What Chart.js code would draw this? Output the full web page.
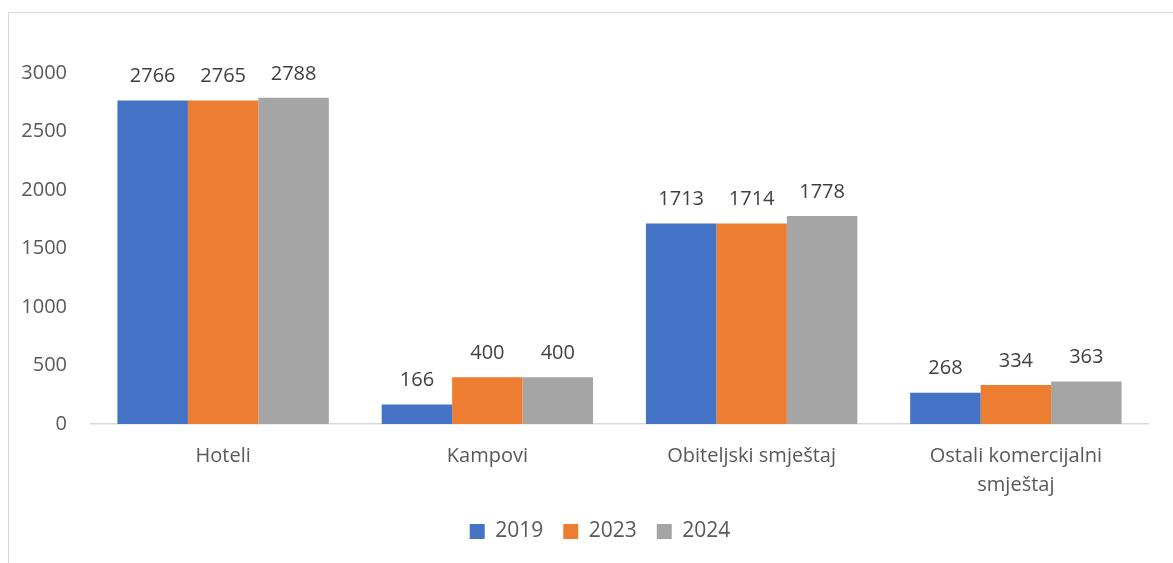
<!DOCTYPE html>
<html>
<head>
<meta charset="utf-8">
<script src="https://cdn.jsdelivr.net/npm/chart.js@4.4.1/dist/chart.umd.min.js"></script>
<style>
  html, body { margin: 0; padding: 0; background: #fff; overflow: hidden; }
  #frame { position: absolute; left: 8px; top: 12px; width: 1200px; height: 600px; border: 1px solid #d9d9d9; box-sizing: border-box; }
  #wrap { position: absolute; left: 0; top: 0; width: 1173px; height: 563px; }
</style>
</head>
<body>
<div id="frame"></div>
<div id="wrap"><canvas id="c" width="1173" height="563"></canvas></div>
<script>
const categories = ['Hoteli', 'Kampovi', 'Obiteljski smještaj', ['Ostali komercijalni', 'smještaj']];
const seriesNames = ['2019', '2023', '2024'];
const values2019 = [2766, 166, 1713, 268];
const values2023 = [2765, 400, 1714, 334];
const values2024 = [2788, 400, 1778, 363];
const yTicks = [0, 500, 1000, 1500, 2000, 2500, 3000];

const FONT = '"Open Sans", Lato, sans-serif';

const valueLabels = {
  id: 'valueLabels',
  afterDatasetsDraw(chart) {
    const ctx = chart.ctx;
    ctx.save();
    ctx.font = '20px ' + FONT;
    ctx.fillStyle = '#404040';
    ctx.textAlign = 'center';
    ctx.textBaseline = 'middle';
    chart.data.datasets.forEach((ds, i) => {
      const meta = chart.getDatasetMeta(i);
      meta.data.forEach((el, j) => {
        ctx.fillText(String(ds.data[j]), el.x, el.y - 24);
      });
    });
    ctx.restore();
  }
};

// Center the legend under the plot area like the original (slightly right of canvas center)
const legendShift = {
  id: 'legendShift',
  afterLayout(chart) {
    const lg = chart.legend;
    if (!lg) return;
    const target = 600;
    const cur = (lg.left + lg.right) / 2;
    const d = target - cur;
    lg.left += d;
    lg.right += d;
    if (lg.legendHitBoxes) lg.legendHitBoxes.forEach(b => { b.left += d; });
  }
};

new Chart(document.getElementById('c'), {
  type: 'bar',
  data: {
    labels: categories,
    datasets: [
      { label: seriesNames[0], data: values2019, backgroundColor: '#4472C4' },
      { label: seriesNames[1], data: values2023, backgroundColor: '#ED7D31' },
      { label: seriesNames[2], data: values2024, backgroundColor: '#A5A5A5' }
    ]
  },
  options: {
    responsive: false,
    animation: false,
    layout: { padding: { left: 10, right: 25, top: 73, bottom: 11 } },
    datasets: { bar: { categoryPercentage: 0.8, barPercentage: 1.0, borderWidth: 0 } },
    plugins: {
      legend: {
        position: 'bottom',
        labels: {
          font: { size: 21, family: FONT },
          color: '#595959',
          boxWidth: 15,
          boxHeight: 15,
          padding: 20
        }
      },
      tooltip: { enabled: false }
    },
    scales: {
      x: {
        grid: { display: false, drawTicks: false },
        border: { display: true, color: '#d9d9d9', width: 1.5 },
        ticks: {
          font: { size: 20, family: FONT, lineHeight: 1.45 },
          color: '#595959',
          padding: 18,
          maxRotation: 0,
          autoSkip: false
        },
        afterFit(scale) { scale.height = 77; }
      },
      y: {
        min: 0,
        max: 3000,
        grid: { display: false, drawTicks: false },
        border: { display: false },
        afterBuildTicks(scale) { scale.ticks = yTicks.map(v => ({ value: v })); },
        ticks: {
          font: { size: 20, family: FONT },
          color: '#595959',
          padding: 24,
          callback: (v) => String(v)
        },
        afterFit(scale) { scale.width = 81; }
      }
    }
  },
  plugins: [valueLabels, legendShift]
});
</script>
</body>
</html>
